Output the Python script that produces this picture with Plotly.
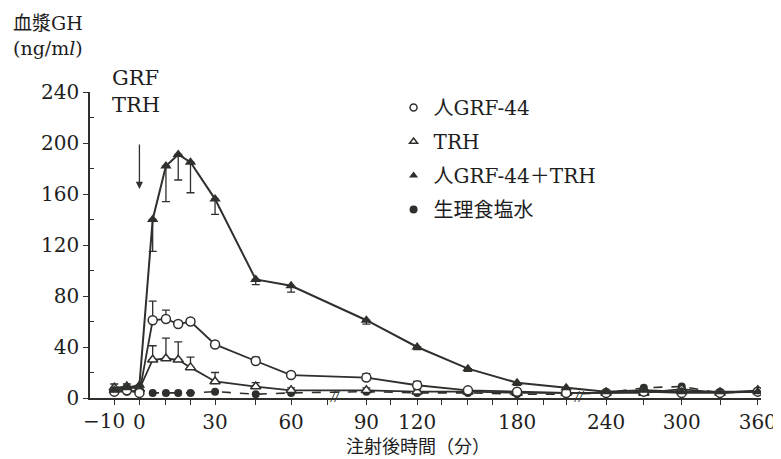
import numpy as np
import plotly.graph_objects as go

# ---------------- data (minutes, ng/ml) ----------------
times = [-10, -5, 0, 5, 10, 15, 20, 30, 45, 60, 90, 120, 150, 180, 210, 240, 270, 300, 330, 360]

grf44 = [5, 6, 4, 61, 62, 58, 60, 42, 29, 18, 16, 10, 6, 5, 4, 4, 5, 4, 4, 5]
grf44_err = [1, 1, 0, 15, 7, 2, 2, 2, 3, 2, 3, 3, 2, 1, 1, 1, 1, 1, 1, 1]

trh = [8, 9, 7, 30, 31, 30, 24, 13, 9, 6, 6, 5, 5, 4, 4, 4, 4, 7, 4, 6]
trh_err = [3, 2, 2, 11, 16, 14, 8, 7, 3, 2, 2, 2, 2, 1, 1, 1, 1, 1, 1, 1]

combo = [6, 8, 10, 140, 182, 191, 185, 156, 93, 88, 61, 40, 23, 12, 8, 5, 6, 5, 5, 5]
combo_err = [1, 1, 2, 25, 28, 20, 24, 12, 4, 5, 3, 2, 2, 2, 1, 1, 1, 1, 1, 1]

saline = [5, 5, 6, 4, 4, 4, 4, 5, 3, 4, 5, 4, 4, 3, 3, 4, 8, 9, 4, 5]

series_names = ["人GRF-44", "TRH", "人GRF-44＋TRH", "生理食塩水"]

major_ticks = [-10, 0, 30, 60, 90, 120, 180, 240, 300, 360]
y_ticks = [0, 40, 80, 120, 160, 200, 240]

# ---------------- broken (piecewise) time axis scale ----------------
AXIS_T = [-10, 0, 10, 20, 30, 45, 60, 75, 90, 105, 120, 135, 150, 165, 180, 195, 210, 240, 270, 300, 330, 360]
AXIS_P = [106.7, 132.3, 159.3, 184.3, 209.3, 250.7, 286.7, 324, 363.3, 388.3, 415, 440,
          466.7, 491.7, 516.7, 543.3, 566.7, 607.3, 645.7, 684.3, 723.3, 761.7]


def tx(t):
    return np.interp(np.asarray(t, dtype=float), AXIS_T, AXIS_P)


W, H = 781, 459
ML, MR, MT, MB = 82, 16, 84, 69
PW, PH = W - ML - MR, H - MT - MB


def px(xp):
    return (xp - ML) / PW


def py(yp):
    return (H - MB - yp) / PH


INK = "#2e302c"
TXT = "#1e1e1e"
FONT = "DejaVu Serif, Noto Sans CJK JP"

x = tx(times)
fig = go.Figure()

# saline (dashed)
fig.add_trace(go.Scatter(
    x=x, y=saline, mode="lines+markers", showlegend=False,
    line=dict(color=INK, width=1.6, dash="dash"),
    marker=dict(symbol="circle", size=8, color=INK),
))
# TRH
fig.add_trace(go.Scatter(
    x=x, y=trh, mode="lines+markers", showlegend=False,
    line=dict(color=INK, width=1.8),
    marker=dict(symbol="triangle-up", size=9, color="white", line=dict(color=INK, width=1.5)),
    error_y=dict(type="data", symmetric=False, array=trh_err, arrayminus=[0] * len(trh_err),
                 color=INK, thickness=1.3, width=4),
))
# GRF-44
fig.add_trace(go.Scatter(
    x=x, y=grf44, mode="lines+markers", showlegend=False,
    line=dict(color=INK, width=1.8),
    marker=dict(symbol="circle", size=9, color="white", line=dict(color=INK, width=1.5)),
    error_y=dict(type="data", symmetric=False, array=grf44_err, arrayminus=[0] * len(grf44_err),
                 color=INK, thickness=1.3, width=4),
))
# GRF-44 + TRH
fig.add_trace(go.Scatter(
    x=x, y=combo, mode="lines+markers", showlegend=False,
    line=dict(color=INK, width=2),
    marker=dict(symbol="triangle-up", size=10, color=INK),
    error_y=dict(type="data", symmetric=False, array=[0] * len(combo_err), arrayminus=combo_err,
                 color=INK, thickness=1.3, width=4),
))

# legend-only traces (markers only)
leg_markers = [
    dict(symbol="circle-open", size=7, color=INK, line=dict(width=1.5)),
    dict(symbol="triangle-up-open", size=7, color=INK, line=dict(width=1.5)),
    dict(symbol="triangle-up", size=8, color=INK),
    dict(symbol="circle", size=8, color=INK),
]
for i, (name, mk) in enumerate(zip(series_names, leg_markers)):
    fig.add_trace(go.Scatter(x=[None], y=[None], mode="markers", name=name,
                             marker=mk, legendgroup=f"g{i}", showlegend=True))

tickvals = tx(AXIS_T)
# the "−10" label is drawn as an annotation (shifted left, as in the original)
ticktext = [str(t) if (t in major_ticks and t != -10) else "" for t in AXIS_T]

fig.update_xaxes(
    range=[ML, W - MR], tickmode="array", tickvals=tickvals, ticktext=ticktext,
    ticks="outside", ticklen=5, tickwidth=1.2, tickcolor=INK, tickangle=0,
    showline=True, linecolor=INK, linewidth=1.6, showgrid=False, zeroline=False,
    tickfont=dict(size=20, color=TXT, family=FONT),
)
fig.update_yaxes(
    range=[0, 240], tickmode="array", tickvals=y_ticks,
    ticks="outside", ticklen=5, tickwidth=1.2, tickcolor=INK,
    minor=dict(tickmode="array", tickvals=[20, 60, 100, 140, 180, 220], ticks="inside",
               ticklen=4, tickwidth=1.2, tickcolor=INK),
    showline=True, linecolor=INK, linewidth=1.6, showgrid=False, zeroline=False,
    tickfont=dict(size=20, color=TXT, family=FONT),
)

annotations = [
    dict(text="−10", xref="paper", yref="paper", x=px(120), y=py(413),
         xanchor="right", yanchor="middle", showarrow=False,
         font=dict(size=20, color=TXT, family=FONT)),
    dict(text="血漿GH<br>(ng/m<i>l</i>)", xref="paper", yref="paper", x=px(2), y=py(2),
         xanchor="left", yanchor="top", showarrow=False, align="left",
         font=dict(size=19, color=TXT, family=FONT)),
    dict(text="GRF<br>TRH", xref="paper", yref="paper", x=px(102), y=py(56),
         xanchor="left", yanchor="top", showarrow=False, align="left",
         font=dict(size=21, color=TXT, family=FONT)),
    dict(text="注射後時間（分）", xref="paper", yref="paper", x=px(416), y=py(439),
         xanchor="center", yanchor="middle", showarrow=False,
         font=dict(size=18, color=TXT, family=FONT)),
    dict(text="", xref="x", yref="y", x=float(tx(0)), y=164, axref="x", ayref="y",
         ax=float(tx(0)), ay=200, showarrow=True, arrowhead=2, arrowsize=1.1,
         arrowwidth=1.3, arrowcolor=INK),
]
for t_break in [78, 220]:
    annotations.append(dict(text="<i>//</i>", xref="x", yref="y", x=float(tx(t_break)), y=1,
                            showarrow=False, font=dict(size=12, color=INK, family=FONT)))

fig.update_layout(
    width=W, height=H, margin=dict(l=ML, r=MR, t=MT, b=MB),
    paper_bgcolor="white", plot_bgcolor="white",
    font=dict(family=FONT, color=TXT),
    legend=dict(x=px(391), y=py(80), xanchor="left", yanchor="top",
                font=dict(size=20, color=TXT, family=FONT), bgcolor="rgba(0,0,0,0)",
                tracegroupgap=5, itemwidth=30),
    annotations=annotations,
)

fig.write_html("out.html")
